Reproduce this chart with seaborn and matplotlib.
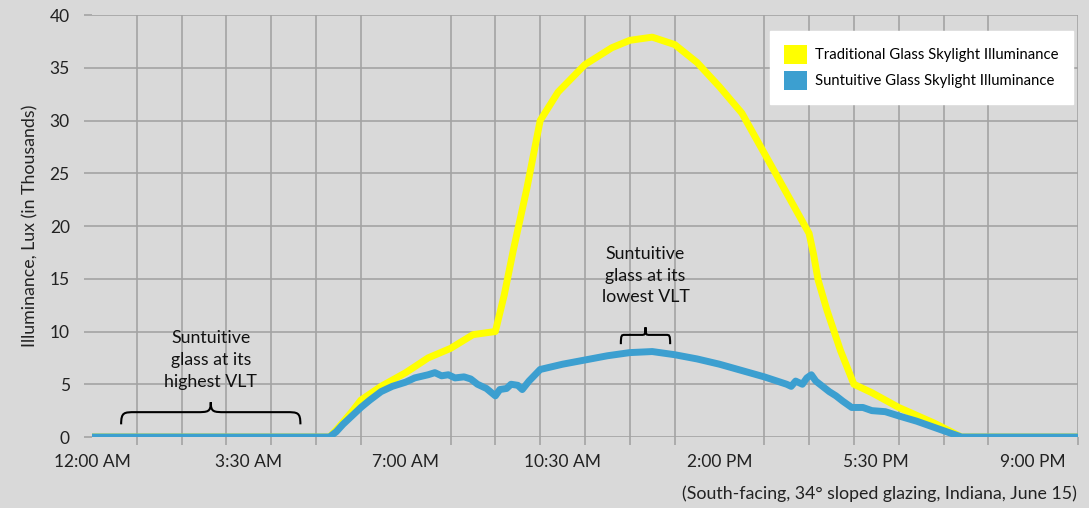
import numpy as np
import pandas as pd
import seaborn as sns
import matplotlib.pyplot as plt
from matplotlib.patches import Patch
from matplotlib.path import Path
from matplotlib.patches import PathPatch

# hours after midnight, illuminance in thousands of lux
trad_hours = [0, 5.3, 5.5, 5.8, 6.0, 6.45, 7.0, 7.5, 8.0, 8.5, 9.0, 9.2, 9.4, 9.7,
              10.0, 10.4, 11.0, 11.6, 12.0, 12.5, 13.0, 13.5, 14.0, 14.5, 15.0,
              15.5, 16.0, 16.1, 16.2, 16.4, 16.7, 17.0, 17.4, 18.0, 18.8, 19.4, 22]
trad_lux = [0, 0, 0.9, 2.4, 3.5, 4.8, 6.1, 7.5, 8.4, 9.7, 10.0, 13.5, 17.7, 23.5,
            30.0, 32.7, 35.3, 36.9, 37.6, 37.9, 37.2, 35.5, 33.2, 30.7, 26.9,
            23.1, 19.3, 17.3, 14.9, 12.0, 8.2, 5.0, 4.2, 2.8, 1.3, 0, 0]

sunt_hours = [0, 5.3, 5.45, 5.6, 5.8, 6.0, 6.2, 6.45, 6.7, 7.0, 7.2, 7.5, 7.65, 7.8,
              7.95, 8.1, 8.3, 8.45, 8.6, 8.8, 9.0, 9.1, 9.25, 9.35, 9.5, 9.6, 9.75,
              10.0, 10.5, 11.0, 11.5, 12.0, 12.5, 13.0, 13.5, 14.0, 14.5, 15.0,
              15.5, 15.6, 15.7, 15.85, 15.95, 16.05, 16.15, 16.3, 16.45, 16.6,
              16.75, 16.95, 17.2, 17.4, 17.7, 18.0, 18.4, 18.8, 19.2, 19.4, 22]
sunt_lux = [0, 0, 0.5, 1.2, 2.0, 2.8, 3.5, 4.3, 4.8, 5.2, 5.6, 5.9, 6.1, 5.8,
            5.9, 5.6, 5.7, 5.5, 5.0, 4.6, 3.9, 4.5, 4.6, 5.0, 4.9, 4.5, 5.3,
            6.4, 6.9, 7.3, 7.7, 8.0, 8.1, 7.8, 7.4, 6.9, 6.3, 5.7,
            5.0, 4.8, 5.3, 5.0, 5.6, 5.9, 5.3, 4.8, 4.3, 3.9,
            3.4, 2.8, 2.8, 2.5, 2.4, 2.0, 1.5, 0.9, 0.3, 0, 0]

series_names = ['Traditional Glass Skylight Illuminance',
                'Suntuitive Glass Skylight Illuminance']
colors = ['#ffff00', '#3c9fd0']

tick_hours = [0, 3.5, 7, 10.5, 14, 17.5, 21]
tick_labels = ['12:00 AM', '3:30 AM', '7:00 AM', '10:30 AM', '2:00 PM', '5:30 PM', '9:00 PM']

df = pd.concat([
    pd.DataFrame({'hour': trad_hours, 'lux': trad_lux, 'series': series_names[0]}),
    pd.DataFrame({'hour': sunt_hours, 'lux': sunt_lux, 'series': series_names[1]}),
])

plt.rcParams['font.family'] = ['Lato', 'DejaVu Sans']
bg = '#d9d9d9'
grid_c = '#a3a3a3'

fig = plt.figure(figsize=(10.89, 5.08), dpi=100, facecolor=bg)
ax = fig.add_axes([92/1089, 1 - 437/508, 986/1089, 422/508])
ax.set_facecolor(bg)

sns.lineplot(data=df, x='hour', y='lux', hue='series', hue_order=series_names,
             palette=colors, estimator=None, sort=False, linewidth=5.0,
             legend=False, ax=ax)
for ln in ax.lines:
    ln.set_solid_joinstyle('round')
    ln.set_solid_capstyle('butt')

ax.set_xlim(0, 22)
ax.set_ylim(0, 40)
ax.set_yticks(range(0, 41, 5))
ax.set_xticks(tick_hours)
ax.set_xticklabels(tick_labels)
ax.set_xticks(range(0, 23), minor=True)
ax.tick_params(axis='x', which='major', length=0, pad=12, labelsize=12.5, colors='#222222')
ax.tick_params(axis='x', which='minor', length=6, width=1.2, color=grid_c)
ax.tick_params(axis='y', length=6, width=1.2, color=grid_c, pad=10, labelsize=12.5,
               labelcolor='#222222')
ax.grid(True, which='minor', axis='x', color=grid_c, linewidth=1.2)
ax.grid(True, which='major', axis='y', color=grid_c, linewidth=1.2)
ax.set_axisbelow(True)
for s in ax.spines.values():
    s.set_visible(False)

ax.set_xlabel('')
ax.set_ylabel('Illuminance, Lux (in Thousands)', fontsize=12.8, color='#222222', labelpad=8)


def brace(ax, x0, x1, y0, y1):
    xm = (x0 + x1) / 2
    ym = y0 + (y1 - y0) * 0.55
    dx = (x1 - x0) * 0.08
    verts = [(x0, y0),
             (x0, ym), (x0 + dx * 0.2, ym), (x0 + dx, ym),
             (xm - dx, ym),
             (xm - dx * 0.2, ym), (xm, ym), (xm, y1),
             (xm, ym), (xm + dx * 0.2, ym), (xm + dx, ym),
             (x1 - dx, ym),
             (x1 - dx * 0.2, ym), (x1, ym), (x1, y0)]
    codes = [Path.MOVETO,
             Path.CURVE4, Path.CURVE4, Path.CURVE4,
             Path.LINETO,
             Path.CURVE4, Path.CURVE4, Path.CURVE4,
             Path.CURVE4, Path.CURVE4, Path.CURVE4,
             Path.LINETO,
             Path.CURVE4, Path.CURVE4, Path.CURVE4]
    ax.add_patch(PathPatch(Path(verts, codes), facecolor='none', edgecolor='black',
                           linewidth=1.5))


brace(ax, 0.65, 4.65, 1.2, 3.3)
ax.text(2.65, 7.3, 'Suntuitive\nglass at its\nhighest VLT', ha='center', va='center',
        fontsize=12.8, linespacing=1.45, color='#111111')
brace(ax, 11.8, 12.9, 8.8, 10.4)
ax.text(12.35, 15.3, 'Suntuitive\nglass at its\nlowest VLT', ha='center', va='center',
        fontsize=12.8, linespacing=1.45, color='#111111')

handles = [Patch(facecolor=c, edgecolor='none') for c in colors]
leg = ax.legend(handles, series_names, loc='upper right', bbox_to_anchor=(0.995, 0.962),
                borderaxespad=0, frameon=True, fancybox=False, fontsize=10.7,
                handlelength=1.55, handleheight=1.55, labelspacing=0.5,
                borderpad=0.95, handletextpad=0.55)
leg.get_frame().set_facecolor('white')
leg.get_frame().set_edgecolor('white')
leg.get_frame().set_alpha(1)

fig.text(1077/1089, 1 - 494/508, '(South-facing, 34\u00b0 sloped glazing, Indiana, June 15)',
         ha='right', va='center', fontsize=12.8, color='#222222')

fig.savefig('out.png', dpi=100, facecolor=bg)
